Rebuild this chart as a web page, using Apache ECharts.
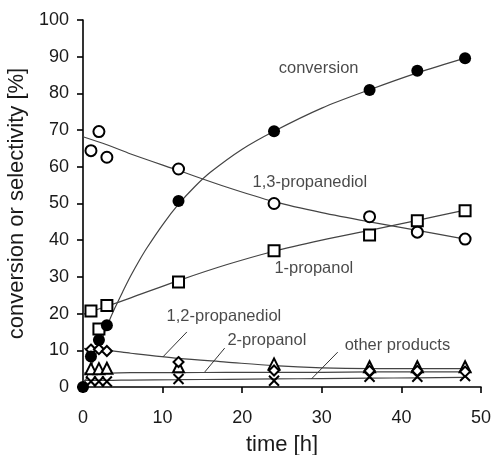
<!DOCTYPE html>
<html>
<head>
<meta charset="utf-8">
<script src="https://cdn.jsdelivr.net/npm/echarts@6/dist/echarts.min.js"></script>
<style>
  html, body { margin: 0; padding: 0; background: #fff; }
  #main { width: 491px; height: 455px; }
</style>
</head>
<body>
<div id="main"></div>
<script>
// measured points
var convTime = [0, 1, 2, 3, 12, 24, 36, 42, 48];
var conversion = [0, 8.3, 12.8, 16.8, 50.7, 69.7, 80.9, 86.2, 89.6];

var prodTime = [1, 2, 3, 12, 24, 36, 42, 48];
var pdo13 = [64.4, 69.6, 62.6, 59.4, 50.0, 46.4, 42.2, 40.3];
var propanol1 = [20.7, 15.8, 22.2, 28.6, 37.1, 41.4, 45.3, 48.0];
var pdo12 = [10.2, 10.3, 9.8, 6.8, 4.5, 4.4, 4.4, 4.2];
var propanol2 = [5.0, 5.0, 5.1, 5.5, 6.3, 5.5, 5.5, 5.5];
var others = [1.5, 1.5, 1.5, 2.2, 1.7, 2.8, 2.8, 3.0];

// fitted curves
var convFitTime = [0, 1, 2, 3, 4, 5, 6, 7, 8, 10, 12, 14, 16, 20, 24, 30, 36, 42, 48];
var convFit = [0, 5.5, 11, 16.5, 21.5, 26, 30.3, 34.2, 37.8, 44.2, 49.8, 54.5, 58.5, 64.8, 69.7, 76, 81, 85.6, 89.6];

var fitTime = [0, 3, 6, 12, 18, 24, 30, 36, 42, 48];
var pdo13Fit = [68.2, 66, 63.5, 59, 54.5, 50.5, 47.5, 45, 42.7, 40.3];
var propanol1Fit = [19.8, 22, 24.3, 29, 33.3, 37, 40, 42.7, 45.4, 48.2];
var pdo12Fit = [10.5, 10, 9.2, 7.8, 6.8, 5.8, 5.2, 5.0, 5.0, 5.0];
var propanol2Fit = [3.8, 3.8, 3.9, 3.9, 4.0, 4.0, 4.0, 4.1, 4.1, 4.1];
var othersFit = [1.8, 1.8, 1.9, 2.0, 2.1, 2.2, 2.3, 2.4, 2.5, 2.6];

// annotation texts and their anchor positions (data units)
var labelNames = ['conversion', '1,3-propanediol', '1-propanol', '1,2-propanediol', '2-propanol', 'other products'];
var labelX = [29.6, 28.5, 29.0, 17.7, 23.1, 39.5];
var labelY = [86.9, 55.6, 32.4, 19.1, 12.8, 11.2];

// leader lines [x1, y1, x2, y2]
var leaders = [
  [13.05, 15.0, 10.04, 8.2],
  [17.8, 10.6, 15.3, 4.1],
  [32.0, 9.5, 28.7, 2.2]
];

var xTicks = [0, 10, 20, 30, 40, 50];
var yTicks = [0, 10, 20, 30, 40, 50, 60, 70, 80, 90, 100];

function pairs(xs, ys) {
  return xs.map(function (x, i) { return [x, ys[i]]; });
}

function fitLine(xs, ys) {
  return {
    type: 'line',
    data: pairs(xs, ys),
    smooth: 0.3,
    symbol: 'none',
    lineStyle: { color: '#444', width: 1.2 },
    z: 1,
    silent: true
  };
}

function points(xs, ys, symbol, size, filled) {
  return {
    type: 'scatter',
    data: pairs(xs, ys),
    symbol: symbol,
    symbolSize: size,
    itemStyle: {
      color: filled ? '#000' : '#fff',
      borderColor: '#000',
      borderWidth: filled ? 0 : 2,
      opacity: 1
    },
    z: 3
  };
}

var crossPath = 'path://M0,0L10,10M10,0L0,10';

var option = {
  animation: false,
  backgroundColor: '#fff',
  textStyle: { fontFamily: 'Liberation Sans, Arial, sans-serif' },
  grid: { left: 83, right: 10, top: 20, bottom: 68, containLabel: false, outerBoundsMode: 'none' },
  xAxis: {
    type: 'value',
    min: 0, max: 50, interval: 10,
    name: 'time [h]',
    nameLocation: 'middle',
    nameGap: 47,
    nameTextStyle: { fontSize: 22, color: '#1a1a1a' },
    axisLine: { lineStyle: { color: '#000', width: 1.6 } },
    axisTick: { length: 6, lineStyle: { color: '#000', width: 1.6 } },
    axisLabel: { fontSize: 18, color: '#1a1a1a', margin: 22,
      formatter: function (v) { return xTicks.indexOf(v) >= 0 ? String(v) : ''; } },
    splitLine: { show: false }
  },
  yAxis: {
    type: 'value',
    min: 0, max: 100, interval: 10,
    name: 'conversion or selectivity [%]',
    nameLocation: 'middle',
    nameGap: 49,
    nameTextStyle: { fontSize: 22, color: '#1a1a1a' },
    axisLine: { show: true, lineStyle: { color: '#000', width: 1.6 } },
    axisTick: { show: true, length: 6, lineStyle: { color: '#000', width: 1.6 } },
    axisLabel: { fontSize: 18, color: '#1a1a1a', margin: 14,
      formatter: function (v) { return yTicks.indexOf(v) >= 0 ? String(v) : ''; } },
    splitLine: { show: false }
  },
  series: [
    fitLine(convFitTime, convFit),
    fitLine(fitTime, pdo13Fit),
    fitLine(fitTime, propanol1Fit),
    fitLine(fitTime, pdo12Fit),
    fitLine(fitTime, propanol2Fit),
    fitLine(fitTime, othersFit),
    points(prodTime, others, crossPath, 10, false),
    points(prodTime, propanol2, 'triangle', 11, false),
    points(prodTime, pdo12, 'diamond', 10, false),
    points(prodTime, propanol1, 'rect', 11, false),
    points(prodTime, pdo13, 'circle', 11, false),
    points(convTime, conversion, 'circle', 12, true),
    {
      type: 'scatter',
      data: labelNames.map(function (n, i) { return { name: n, value: [labelX[i], labelY[i]] }; }),
      symbolSize: 0,
      silent: true,
      label: {
        show: true,
        position: 'inside',
        formatter: '{b}',
        fontSize: 16.5,
        color: '#1a1a1a'
      },
      markLine: {
        silent: true,
        symbol: 'none',
        label: { show: false },
        lineStyle: { color: '#333', width: 1, type: 'solid' },
        data: leaders.map(function (l) {
          return [{ coord: [l[0], l[1]] }, { coord: [l[2], l[3]] }];
        })
      },
      z: 4
    }
  ]
};

var chart = echarts.init(document.getElementById('main'));
chart.setOption(option);
</script>
</body>
</html>
